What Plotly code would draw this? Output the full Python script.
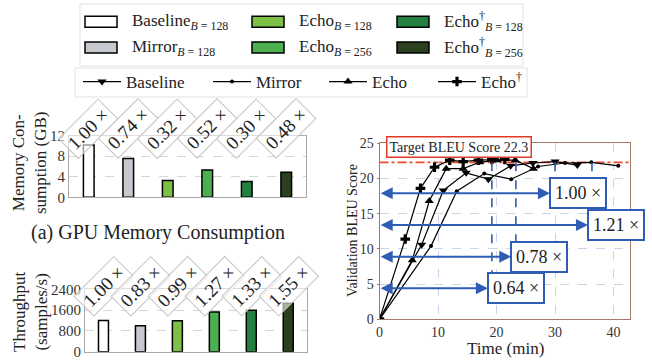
import plotly.graph_objects as go

W, H = 652, 362
FONT = "Liberation Serif, Times New Roman, serif"

# ---------------- data ----------------
bar_methods = ["Baseline", "Mirror", "Echo", "Echo", "Echo<sup>†</sup>", "Echo<sup>†</sup>"]
bar_batch = [128, 128, 128, 256, 128, 256]
bar_cats = ["Baseline-128", "Mirror-128", "Echo-128", "Echo-256", "EchoD-128", "EchoD-256"]
bar_colors = ["#ffffff", "#c6c9ce", "#7cc145", "#4caf50", "#23803e", "#2b401f"]

memory_gb = [10.2, 7.55, 3.26, 5.3, 3.06, 4.9]
memory_ratio = ["1.00", "0.74", "0.32", "0.52", "0.30", "0.48"]
throughput = [1200, 996, 1188, 1524, 1596, 1860]
throughput_ratio = ["1.00", "0.83", "0.99", "1.27", "1.33", "1.55"]

base_t = [0, 7.2, 10.9, 14.8, 18.6, 22.4, 26.2, 30.0, 33.8]
base_bleu = [0, 10.6, 18.3, 20.8, 19.9, 21.8, 22.2, 22.4, 21.9]
mirror_t = [0, 8.8, 13.2, 17.9, 22.5, 27.1, 31.7, 36.2, 40.8]
mirror_bleu = [0, 10.4, 18.2, 20.7, 19.9, 21.7, 22.2, 22.3, 21.8]
echo_t = [0, 5.6, 8.5, 11.4, 14.3, 17.1, 20.1, 23.2, 26.3]
echo_bleu = [0, 8.4, 16.8, 21.4, 21.4, 22.3, 22.6, 22.6, 21.4]
echod_t = [0, 4.4, 7.0, 9.4, 12.0, 14.3, 16.9, 19.2, 21.4]
echod_bleu = [0, 11.4, 18.6, 21.6, 22.6, 22.4, 22.6, 22.7, 22.7]

target_bleu = 22.3
reach_t = [19.2, 23.3, 30.0, 36.3]
speedup = ["0.64", "0.78", "1.00", "1.21"]

# ---------------- figure ----------------
fig = go.Figure()

for i in range(6):
    fig.add_trace(go.Bar(x=[bar_cats[i]], y=[memory_gb[i]], width=0.27,
                         marker=dict(color=bar_colors[i], line=dict(color="black", width=1.5)),
                         xaxis="x", yaxis="y", showlegend=False))
    fig.add_trace(go.Bar(x=[bar_cats[i]], y=[throughput[i]], width=0.27,
                         marker=dict(color=bar_colors[i], line=dict(color="black", width=1.5)),
                         xaxis="x2", yaxis="y2", showlegend=False))

line_specs = [
    ("Baseline", base_t, base_bleu, "triangle-down", 8, "legend", 82),
    ("Mirror", mirror_t, mirror_bleu, "circle", 4, "legend2", 212),
    ("Echo", echo_t, echo_bleu, "triangle-up", 8, "legend3", 328),
    ("Echo<sup>†</sup>", echod_t, echod_bleu, "cross", 8, "legend4", 437),
]
legends = {}
for name, xs, ys, sym, sz, lg, lx in line_specs:
    fig.add_trace(go.Scatter(x=xs, y=ys, mode="lines+markers", name=name, legend=lg,
                             line=dict(color="black", width=1.2),
                             marker=dict(symbol=sym, size=sz, color="black"),
                             xaxis="x3", yaxis="y3"))
    legends[lg] = dict(orientation="h", x=(lx - 4) / W, y=1 - 82 / H, xanchor="left", yanchor="middle",
                       borderwidth=0, bgcolor="rgba(0,0,0,0)", itemwidth=38,
                       font=dict(family=FONT, size=17, color="#222"))

frame = "#a8a8a8"
grid = "#d6d6d6"
tickfont = dict(family=FONT, size=15, color="#333")
tickfont3 = dict(family=FONT, size=14, color="#333")

fig.update_layout(
    width=W, height=H, margin=dict(l=0, r=0, t=0, b=0, autoexpand=False),
    paper_bgcolor="white", plot_bgcolor="white", barmode="overlay",
    font=dict(family=FONT, color="#222"),
    xaxis=dict(domain=[69 / W, 306 / W], range=[-0.5, 5.5], showticklabels=False, ticks="",
               showgrid=False, showline=True, mirror=True, linecolor=frame, zeroline=False,
               anchor="y", type="category", categoryorder="array", categoryarray=bar_cats, automargin=False),
    yaxis=dict(domain=[1 - 197.3 / H, 1 - 135.7 / H], range=[0, 12], tickvals=[0, 4, 8, 12],
               showgrid=True, gridcolor=grid, griddash="dash", showline=True, mirror=True,
               linecolor=frame, zeroline=False, ticks="", tickfont=tickfont, anchor="x", automargin=False),
    xaxis2=dict(domain=[85 / W, 306.7 / W], range=[-0.5, 5.5], showticklabels=False, ticks="",
                showgrid=False, showline=True, mirror=True, linecolor=frame, zeroline=False,
                anchor="y2", type="category", categoryorder="array", categoryarray=bar_cats, automargin=False),
    yaxis2=dict(domain=[1 - 351.7 / H, 1 - 289.3 / H], range=[0, 2400], tickvals=[0, 800, 1600, 2400],
                showgrid=True, gridcolor=grid, griddash="dash", showline=True, mirror=True,
                linecolor=frame, zeroline=False, ticks="", tickfont=tickfont, anchor="x2", automargin=False),
    xaxis3=dict(domain=[379.5 / W, 630 / W], range=[0, 42.8], tickvals=[0, 10, 20, 30, 40],
                showgrid=True, gridcolor="#c9d6ea", griddash="dash", showline=True, mirror=True,
                linecolor="#a87868", zeroline=False, ticks="",
                tickfont=tickfont3, anchor="y3", automargin=False),
    yaxis3=dict(domain=[1 - 319.3 / H, 1 - 143.3 / H], range=[0, 25], tickvals=[0, 5, 10, 15, 20, 25],
                showgrid=True, gridcolor="#c9d6ea", griddash="dash", showline=True, mirror=True,
                linecolor="#a87868", zeroline=False, ticks="outside", ticklen=2, tickcolor="#a87868",
                tickfont=tickfont3, anchor="x3", automargin=False),
    **legends,
)

shapes = []
annotations = []


def ann(**kw):
    kw.setdefault("xanchor", "center")
    kw.setdefault("yanchor", "middle")
    kw.setdefault("showarrow", False)
    annotations.append(kw)


# target line
shapes.append(dict(type="line", xref="x3", yref="y3", x0=0, x1=42.8, y0=target_bleu, y1=target_bleu,
                   line=dict(color="#ee4a2c", width=1.8, dash="dashdot"), layer="below"))
ann(xref="x3", yref="y3", x=13.6, y=24.5, text="Target BLEU Score 22.3",
    font=dict(family=FONT, size=14, color="#222"),
    bordercolor="#e03a26", borderwidth=1.5, borderpad=2, bgcolor="white")

# speedup boxes with double arrows, and vertical dashed markers
box_pos = [(23.3, 4.4), (27.3, 8.9), (33.9, 17.9), (40.4, 13.4)]
blue = "#2f5db5"
for t, s, (bx, by) in zip(reach_t, speedup, box_pos):
    shapes.append(dict(type="line", xref="x3", yref="y3", x0=t, x1=t, y0=target_bleu, y1=by + 1.9,
                       line=dict(color=blue, width=1.6, dash="dash")))
    annotations.append(dict(xref="x3", yref="y3", axref="x3", ayref="y3", x=0.2, y=by, ax=bx, ay=by,
                            text=f"{s} ×", showarrow=True, arrowside="end+start", arrowhead=2,
                            startarrowhead=2, arrowsize=1.2, startarrowsize=1.2, arrowwidth=2,
                            arrowcolor=blue, font=dict(family=FONT, size=18, color="#222"),
                            bordercolor=blue, borderwidth=2, borderpad=4, bgcolor="white"))

# rotated ratio labels on bar charts
for i in range(6):
    ann(xref="x", yref="paper", x=bar_cats[i], y=1 - 129 / H, text=f"{memory_ratio[i]} ×",
        textangle=-45, font=dict(family=FONT, size=19, color="#222"),
        bordercolor="#c4c4c4", borderwidth=1, borderpad=3, bgcolor="rgba(255,255,255,0.6)")
    ann(xref="x2", yref="paper", x=bar_cats[i], y=1 - 286 / H, text=f"{throughput_ratio[i]} ×",
        textangle=-45, font=dict(family=FONT, size=19, color="#222"),
        bordercolor="#c4c4c4", borderwidth=1, borderpad=3, bgcolor="rgba(255,255,255,0.6)")

# axis titles and caption
ann(xref="paper", yref="paper", x=29 / W, y=1 - 163 / H, text="Memory Con-<br>sumption (GB)",
    textangle=-90, font=dict(family=FONT, size=17, color="#222"))
ann(xref="paper", yref="paper", x=30 / W, y=1 - 312 / H, text="Throughput<br>(samples/s)",
    textangle=-90, font=dict(family=FONT, size=17, color="#222"))
ann(xref="paper", yref="paper", x=158 / W, y=1 - 232 / H, text="(a) GPU Memory Consumption",
    font=dict(family=FONT, size=20, color="#222"))
ann(xref="paper", yref="paper", x=352 / W, y=1 - 231 / H, text="Validation BLEU Score",
    textangle=-90, font=dict(family=FONT, size=14, color="#222"))
ann(xref="paper", yref="paper", x=505 / W, y=1 - 348 / H, text="Time (min)",
    font=dict(family=FONT, size=17, color="#222"))

# bar legend (manual, 3 columns x 2 rows)
shapes.append(dict(type="rect", xref="paper", yref="paper", x0=80 / W, x1=523 / W, y0=1 - 66 / H, y1=1 - 4 / H,
                   line=dict(color="#e2e2e2", width=1), fillcolor="white", layer="below"))
shapes.append(dict(type="rect", xref="paper", yref="paper", x0=75 / W, x1=527 / W, y0=1 - 97 / H, y1=1 - 68 / H,
                   line=dict(color="#e2e2e2", width=1), fillcolor="white", layer="below"))
col_x = [85, 252, 397]
row_y = [21.7, 47.5]
for i in range(6):
    c, r = i // 2, i % 2
    x0 = col_x[c]
    yc = row_y[r]
    shapes.append(dict(type="rect", xref="paper", yref="paper", x0=x0 / W, x1=(x0 + 32) / W,
                       y0=1 - (yc + 5.5) / H, y1=1 - (yc - 5.5) / H,
                       line=dict(color="black", width=1.5), fillcolor=bar_colors[i]))
    ann(xref="paper", yref="paper", x=(x0 + 45) / W, y=1 - yc / H, xanchor="left",
        text=f"{bar_methods[i]}<sub><i>B</i> = {bar_batch[i]}</sub>",
        font=dict(family=FONT, size=17, color="#222"))

fig.update_layout(shapes=shapes, annotations=annotations)
fig.write_html("out.html", config={"displayModeBar": False},
               post_script="document.body.style.margin='0px';document.body.style.padding='0px';")
